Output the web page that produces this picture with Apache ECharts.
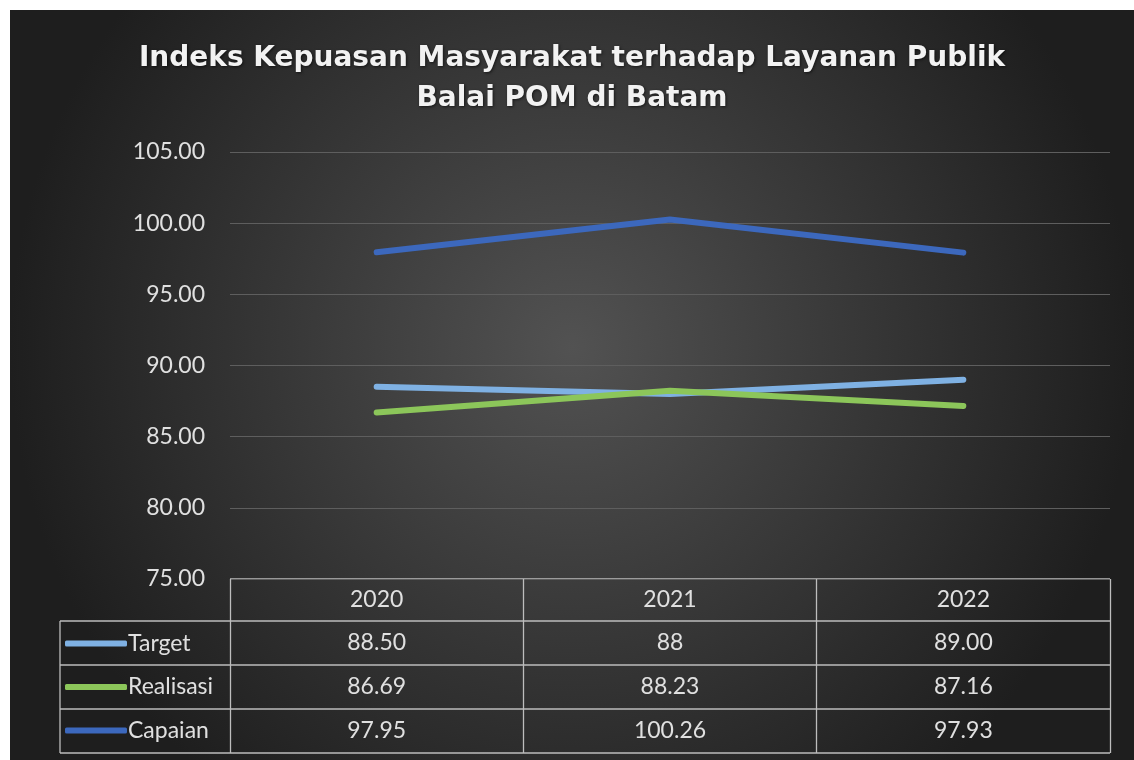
<!DOCTYPE html>
<html>
<head>
<meta charset="utf-8">
<script src="https://cdn.jsdelivr.net/npm/echarts@6/dist/echarts.min.js"></script>
<style>
html,body{margin:0;padding:0;background:#fff;}
#wrap{position:absolute;left:10px;top:10px;width:1124px;height:750px;}
#chart{width:1124px;height:750px;}
</style>
</head>
<body>
<div id="wrap"><div id="chart"></div></div>
<script>
const titleText = 'Indeks Kepuasan Masyarakat terhadap Layanan Publik\nBalai POM di Batam';
const categories = ['2020', '2021', '2022'];
const seriesNames = ['Target', 'Realisasi', 'Capaian'];
const targetValues = [88.5, 88, 89];
const realisasiValues = [86.69, 88.23, 87.16];
const capaianValues = [97.95, 100.26, 97.93];
const targetLabels = ['88.50', '88', '89.00'];
const realisasiLabels = ['86.69', '88.23', '87.16'];
const capaianLabels = ['97.95', '100.26', '97.93'];
const yTicks = { min: 75, max: 105, interval: 5 };
const seriesColors = ['#7fb1e3', '#8cc65a', '#3c68bd'];

const W = 1124, H = 750;
const gridLeft = 220, gridRight = 24, gridTop = 142, gridBottom = 181;
const rowH = 44;
const tableTop = H - gridBottom;       // y of the axis (75)
const headerH = 42;
const tableLeft = 50;
const rightX = W - gridRight;
const FS = 23;

const chart = echarts.init(document.getElementById('chart'), null, { renderer: 'canvas' });

const allValues = [targetValues, realisasiValues, capaianValues];
const tableLabels = [targetLabels, realisasiLabels, capaianLabels];

const graphicLines = [];
const lineStyle = { stroke: '#bdbdbd', lineWidth: 1.3 };
for (let i = 0; i <= 3; i++) {
  const y = tableTop + headerH + i * rowH;
  graphicLines.push({ type: 'line', shape: { x1: tableLeft, y1: y, x2: rightX, y2: y }, style: lineStyle, silent: true });
}
graphicLines.push({ type: 'line', shape: { x1: tableLeft, y1: tableTop + headerH, x2: tableLeft, y2: tableTop + headerH + 3 * rowH }, style: lineStyle, silent: true });
graphicLines.push({ type: 'line', shape: { x1: gridLeft, y1: tableTop, x2: rightX, y2: tableTop }, style: lineStyle, silent: true });

const option = {
  backgroundColor: {
    type: 'radial', x: 0.5, y: 0.45, r: 0.75,
    colorStops: [{ offset: 0, color: '#525252' }, { offset: 1, color: '#1e1e1e' }]
  },
  title: {
    text: titleText,
    left: 'center',
    top: 24,
    textStyle: {
      color: '#f2f2f2', fontFamily: 'DejaVu Sans', fontWeight: 'bold', fontSize: 28,
      lineHeight: 40, textShadowColor: 'rgba(0,0,0,0.6)', textShadowBlur: 3, textShadowOffsetX: 1, textShadowOffsetY: 1
    }
  },
  legend: {
    orient: 'vertical',
    left: tableLeft + 5,
    top: tableTop + headerH + 11,
    padding: 0,
    itemGap: 20.5,
    itemWidth: 62,
    itemHeight: 6,
    icon: 'roundRect',
    selectedMode: false,
    data: seriesNames,
    textStyle: { color: '#e0e0e0', fontFamily: 'Lato', fontSize: FS, lineHeight: 22, padding: [0, 0, 0, -4] }
  },
  grid: { left: gridLeft, right: gridRight, top: gridTop, bottom: gridBottom },
  xAxis: {
    type: 'category',
    data: categories,
    boundaryGap: true,
    axisLine: { show: false },
    axisTick: { show: true, interval: 0, length: headerH + 3 * rowH, lineStyle: { color: '#bdbdbd', width: 1.3 } },
    axisLabel: {
      interval: 0,
      margin: 0,
      color: '#e0e0e0',
      fontFamily: 'Lato',
      fontSize: FS,
      lineHeight: rowH,
      formatter: function (v, idx) {
        const lines = [v];
        for (let s = 0; s < tableLabels.length; s++) lines.push(tableLabels[s][idx]);
        return '{h|' + lines[0] + '}\n' + lines.slice(1).join('\n');
      },
      rich: { h: { fontSize: FS, fontFamily: 'Lato', color: '#e0e0e0', lineHeight: headerH } }
    }
  },
  yAxis: {
    type: 'value',
    min: yTicks.min, max: yTicks.max, interval: yTicks.interval,
    axisLine: { show: false },
    axisTick: { show: false },
    axisLabel: {
      color: '#e0e0e0', fontFamily: 'Lato', fontSize: FS, margin: 25,
      formatter: function (v) { return v.toFixed(2); }
    },
    splitLine: { lineStyle: { color: '#5e5e5e', width: 1 } }
  },
  graphic: graphicLines,
  series: seriesNames.map(function (name, i) {
    return {
      name: name,
      type: 'line',
      data: allValues[i],
      symbol: 'none',
      lineStyle: { color: seriesColors[i], width: 6, cap: 'round', join: 'round' },
      itemStyle: { color: seriesColors[i] },
      emphasis: { disabled: true },
      animation: false
    };
  })
};
chart.setOption(option);
</script>
</body>
</html>
